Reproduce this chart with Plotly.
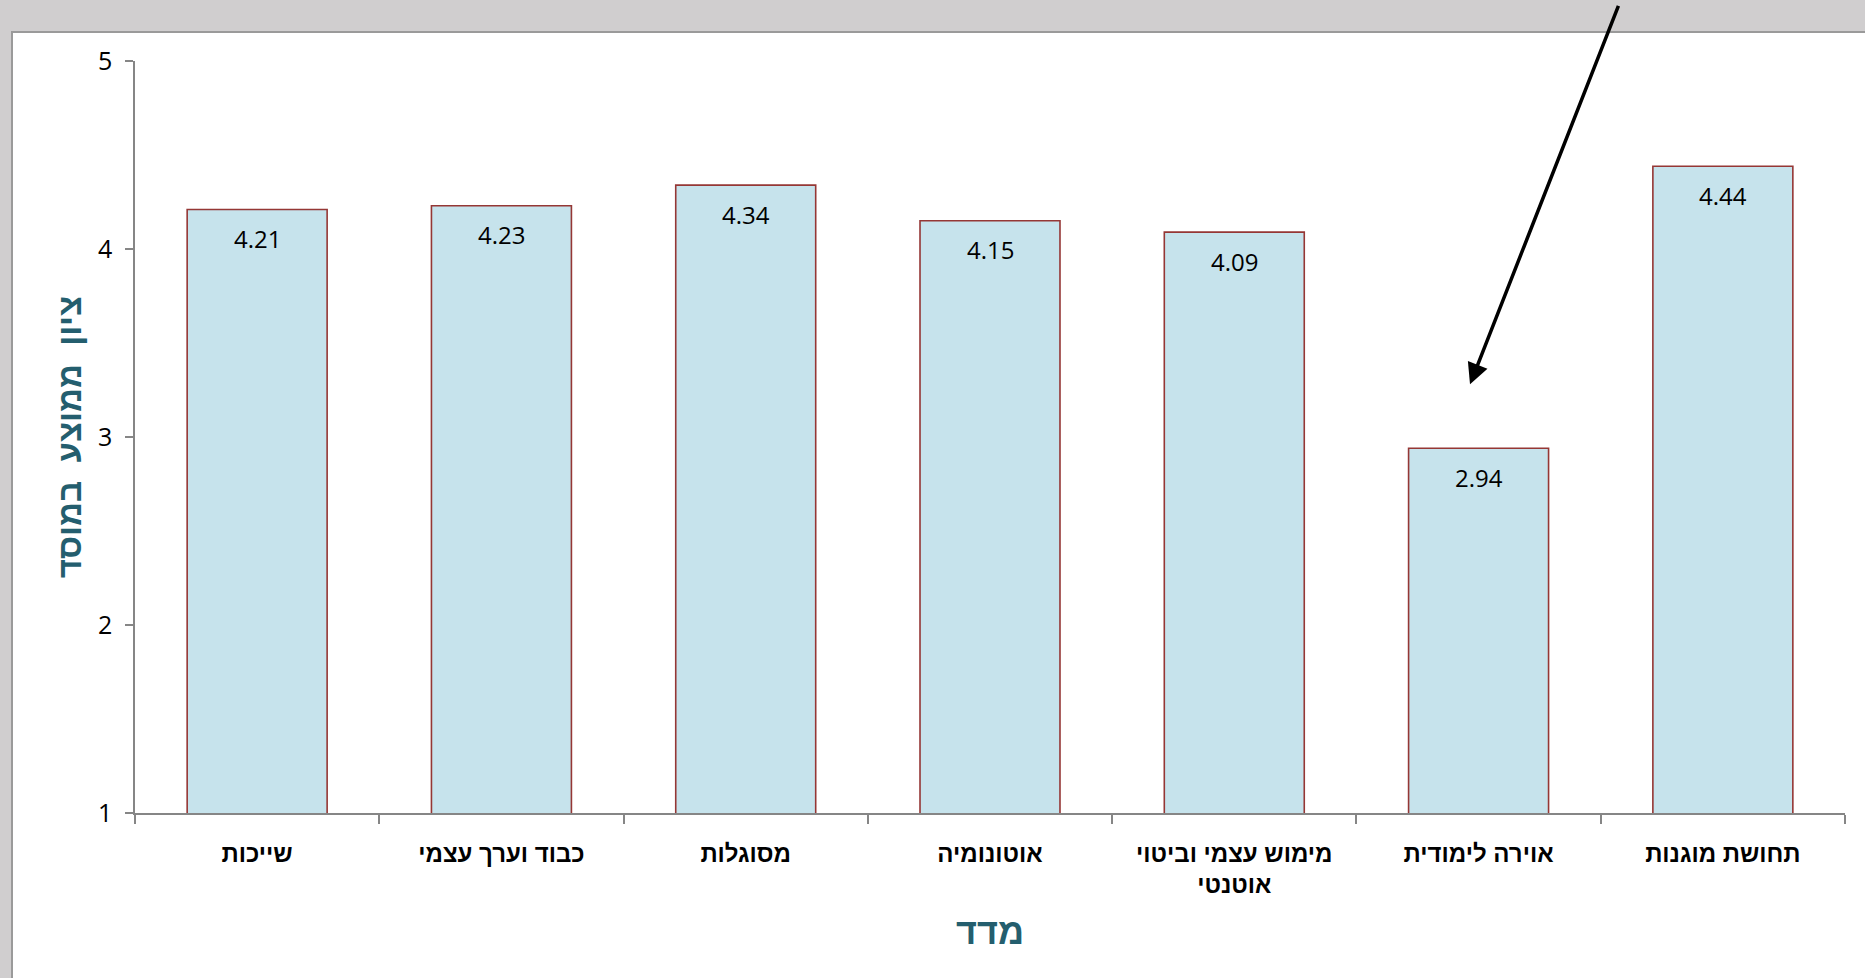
import plotly.graph_objects as go

categories = ["שייכות", "כבוד וערך עצמי", "מסוגלות", "אוטונומיה",
              "מימוש עצמי וביטוי<br>אוטנטי", "אוירה לימודית", "תחושת מוגנות"]
values = [4.21, 4.23, 4.34, 4.15, 4.09, 2.94, 4.44]
y_ticks = [1, 2, 3, 4, 5]
x_title = "מדד"
y_title = "ציון  ממוצע  במוסד"
arrow_target_value = 3.28

W, H = 1865, 978
L, R, T, B = 135, 20, 61, 165
PW, PH = W - L - R, H - T - B


def px_x(px):
    return (px - L) / PW


def px_y(py):
    return (H - B - py) / PH


fig = go.Figure()
fig.add_trace(go.Bar(
    x=categories, y=values,
    marker=dict(color="#C6E3EC", line=dict(color="#953735", width=1.6)),
    hoverinfo="x+y",
))

for c, v in zip(categories, values):
    fig.add_annotation(x=c, y=v, text=f"{v:.2f}", showarrow=False,
                       yanchor="middle", yshift=-29,
                       font=dict(family="Open Sans, Liberation Sans", size=24, color="#000000"))

# arrow pointing to the low bar
fig.add_annotation(x=px_x(1470), xref="paper", y=arrow_target_value, yref="y",
                   ax=149, ay=-380, text="", showarrow=True,
                   arrowhead=2, arrowsize=1.2, arrowwidth=3.5, arrowcolor="#000000")

# white chart box over gray background
fig.add_shape(type="rect", xref="paper", yref="paper",
              x0=px_x(12), x1=px_x(1875), y0=px_y(990), y1=px_y(32),
              fillcolor="#FFFFFF", line=dict(color="#9A9A9A", width=2), layer="below")

fig.update_layout(
    width=W, height=H,
    margin=dict(l=L, r=R, t=T, b=B, autoexpand=False),
    paper_bgcolor="#D0CECF", plot_bgcolor="rgba(0,0,0,0)",
    bargap=0.427, showlegend=False,
    font=dict(family="Liberation Sans", color="#000000"),
)
fig.update_xaxes(
    showgrid=False, showline=True, linecolor="#868686", linewidth=1.5,
    ticks="outside", tickson="boundaries", ticklen=9, tickcolor="#868686", tickwidth=1.5,
    tickfont=dict(family="Liberation Sans", size=24, color="#000000", weight="bold"),
    ticklabelstandoff=18,
    title=dict(text=x_title, standoff=22,
               font=dict(family="Liberation Sans", size=36,
                         color="#245E6E", weight="bold")),
    automargin=False,
)
fig.update_yaxes(
    range=[1, 5], tickvals=y_ticks, showgrid=False, zeroline=False,
    showline=True, linecolor="#868686", linewidth=1.5,
    ticks="outside", ticklen=8, tickcolor="#868686", tickwidth=1.5,
    tickfont=dict(family="Open Sans, Liberation Sans", size=25, color="#000000"),
    ticklabelstandoff=8,
    title=dict(text=y_title, standoff=6,
               font=dict(family="Liberation Sans", size=33, color="#245E6E", weight="bold")),
    automargin=False,
)

fig.write_html("out.html", config={"displayModeBar": False},
               post_script="document.body.style.margin='0';document.body.style.overflow='hidden';")
